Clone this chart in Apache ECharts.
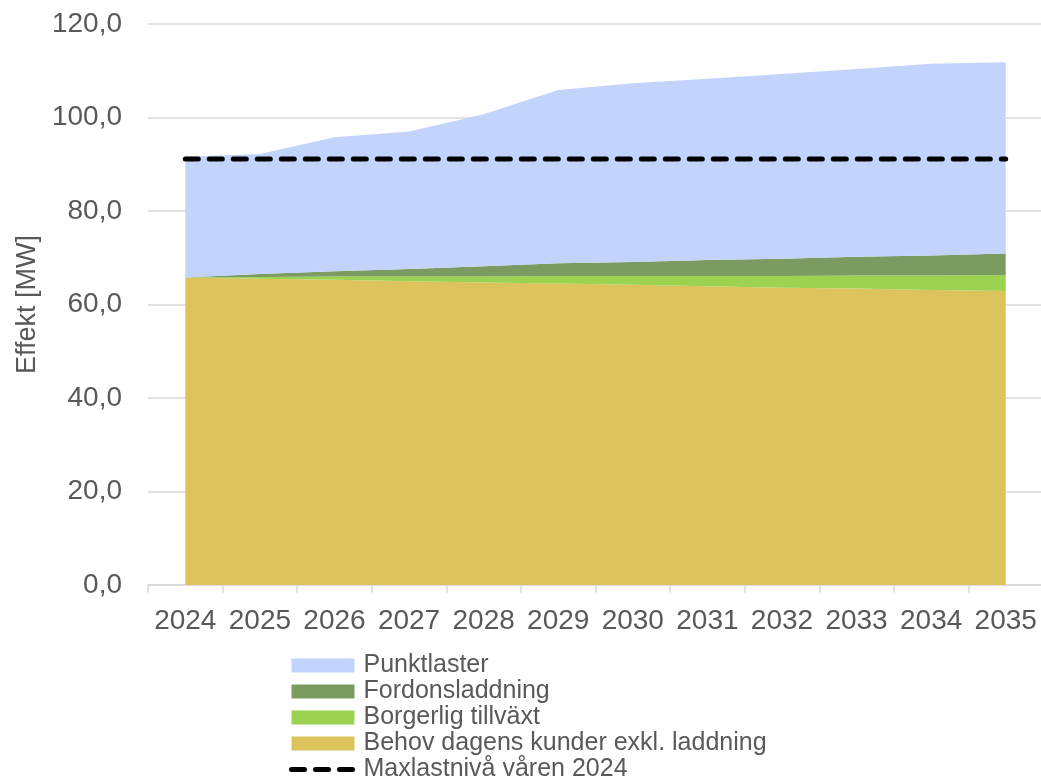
<!DOCTYPE html>
<html>
<head>
<meta charset="utf-8">
<script src="https://cdn.jsdelivr.net/npm/echarts@6/dist/echarts.min.js"></script>
<style>
  html, body { margin: 0; padding: 0; background: #fff; }
  #chartsDOM { width: 1041px; height: 780px; }
</style>
</head>
<body>
<div id="chartsDOM"></div>
<script>
// år på x-axeln
var years = ['2024', '2025', '2026', '2027', '2028', '2029', '2030', '2031', '2032', '2033', '2034', '2035'];
// staplade ytor (MW)
var behov = [65.8, 65.5, 65.3, 65.0, 64.7, 64.5, 64.2, 63.9, 63.6, 63.4, 63.1, 62.9];
var borgerlig = [0.0, 0.4, 0.7, 1.0, 1.3, 1.6, 1.9, 2.2, 2.5, 2.8, 3.1, 3.4];
var fordon = [0.0, 0.6, 1.1, 1.6, 2.2, 2.7, 3.0, 3.4, 3.7, 4.0, 4.3, 4.6];
var punktlaster = [25.8, 25.7, 28.7, 29.4, 32.5, 37.1, 38.2, 38.8, 39.5, 40.2, 41.0, 40.9];
// maxlastnivå
var maxlast = [91.1, 91.1, 91.1, 91.1, 91.1, 91.1, 91.1, 91.1, 91.1, 91.1, 91.1, 91.1];

var font = '"Liberation Sans", Arial, sans-serif';
var textColor = '#595959';
var dashStyle = { color: '#000', width: 5, type: [13, 11], cap: 'round' };

var myChart = echarts.init(document.getElementById('chartsDOM'));

function area(name, data, color) {
    return {
        name: name,
        type: 'line',
        stack: 'total',
        data: data,
        symbol: 'none',
        lineStyle: { width: 0, opacity: 0 },
        areaStyle: { color: color, opacity: 1 },
        itemStyle: { color: color },
        emphasis: { disabled: true },
        silent: true
    };
}

var option = {
    animation: false,
    textStyle: { fontFamily: font },
    grid: {
        left: 148,
        right: -2,
        top: 24,
        bottom: 195,
        containLabel: false,
        outerBoundsMode: 'none'
    },
    legend: {
        orient: 'vertical',
        left: 284,
        top: 648,
        height: 300,
        itemWidth: 63,
        itemHeight: 14,
        itemGap: 1,
        selectedMode: false,
        textStyle: { fontSize: 25, color: textColor, fontFamily: font, padding: [0, 0, 0, 4] },
        data: [
            { name: 'Punktlaster', icon: 'rect' },
            { name: 'Fordonsladdning', icon: 'rect' },
            { name: 'Borgerlig tillväxt', icon: 'rect' },
            { name: 'Behov dagens kunder exkl. laddning', icon: 'rect' },
            {
                name: 'Maxlastnivå våren 2024',
                itemStyle: { color: 'rgba(0,0,0,0)', opacity: 0, borderWidth: 0 },
                lineStyle: dashStyle
            }
        ]
    },
    xAxis: {
        type: 'category',
        data: years,
        boundaryGap: true,
        axisLine: { lineStyle: { color: '#d9d9d9', width: 1.5 } },
        axisTick: { show: true, length: 8, lineStyle: { color: '#d9d9d9', width: 1.5 } },
        axisLabel: { interval: 0, fontSize: 28, color: textColor, margin: 22, fontFamily: font },
        splitLine: { show: false }
    },
    yAxis: {
        type: 'value',
        min: 0,
        max: 120,
        interval: 20,
        name: 'Effekt [MW]',
        nameLocation: 'middle',
        nameGap: 106,
        nameTextStyle: { fontSize: 27, color: textColor, fontFamily: font },
        axisLine: { show: false },
        axisTick: { show: false },
        axisLabel: {
            fontSize: 28,
            color: textColor,
            margin: 26,
            fontFamily: font,
            formatter: function (v) { return v.toFixed(1).replace('.', ','); }
        },
        splitLine: { lineStyle: { color: '#d9d9d9', width: 1.5 } }
    },
    series: [
        area('Behov dagens kunder exkl. laddning', behov, '#DCC35C'),
        area('Borgerlig tillväxt', borgerlig, '#9BD350'),
        area('Fordonsladdning', fordon, '#7B9B62'),
        area('Punktlaster', punktlaster, '#C2D4FC'),
        {
            name: 'Maxlastnivå våren 2024',
            type: 'line',
            data: maxlast,
            symbol: 'none',
            z: 5,
            silent: true,
            itemStyle: { color: '#000' },
            lineStyle: dashStyle
        }
    ]
};
myChart.setOption(option);
</script>
</body>
</html>
